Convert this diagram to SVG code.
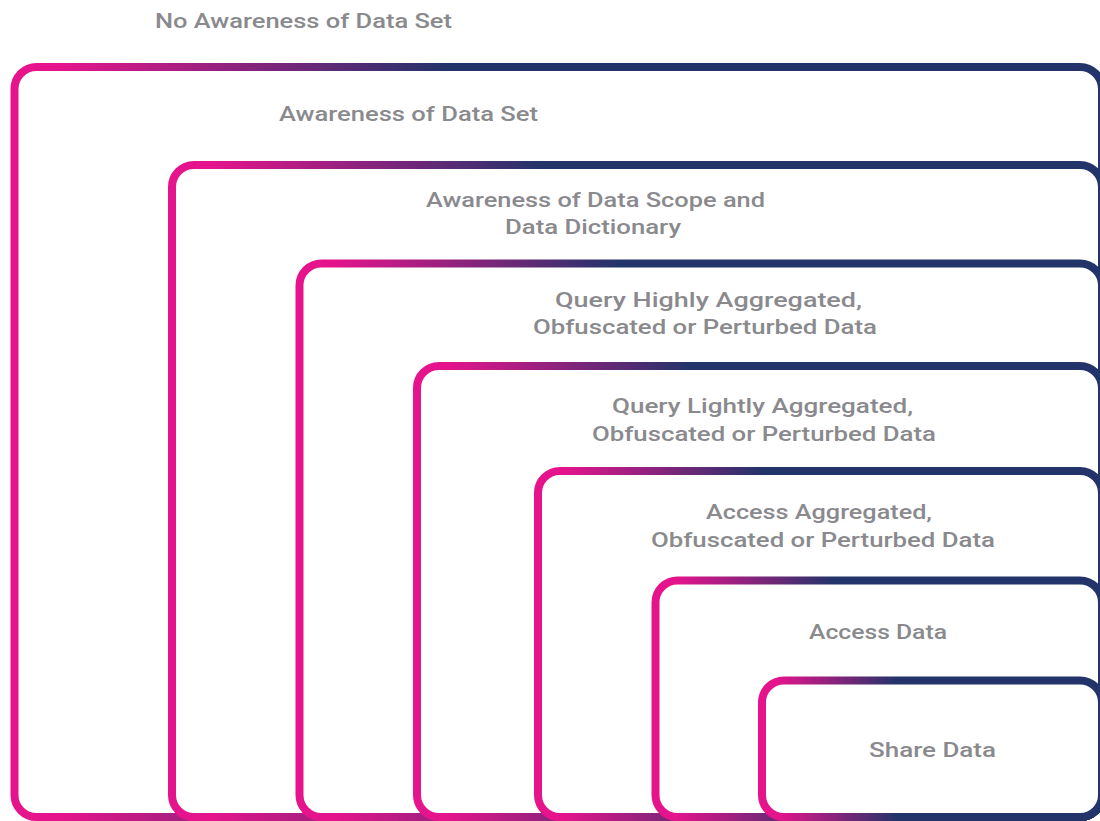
<svg xmlns="http://www.w3.org/2000/svg" width="1100" height="821" viewBox="0 0 1100 821">
  <defs>
    <linearGradient id="edge" x1="0" y1="0" x2="1" y2="0">
      <stop offset="0.04" stop-color="#E6148C"/>
      <stop offset="0.40" stop-color="#22346A"/>
    </linearGradient>
    <style>
      .box { fill: #FFFFFF; stroke: url(#edge); stroke-width: 8; }
      .lbl { font-family: Roboto, "Liberation Sans", "DejaVu Sans", sans-serif; font-weight: 500; font-size: 21px; fill: #8A8A8E; text-anchor: middle; }
    </style>
  </defs>
  <rect width="1100" height="821" fill="#FFFFFF"/>
  <g id="level0">
    <text class="lbl" x="303.5" y="28" textLength="297" lengthAdjust="spacingAndGlyphs">No Awareness of Data Set</text>
  </g>
  <g id="level1">
    <rect class="box" x="14.5" y="67" width="1087.5" height="750" rx="22" ry="22"/>
    <text class="lbl" x="408.5" y="121" textLength="259" lengthAdjust="spacingAndGlyphs">Awareness of Data Set</text>
  </g>
  <g id="level2">
    <rect class="box" x="172" y="165" width="930" height="652" rx="22" ry="22"/>
    <text class="lbl" x="595.5" y="207" textLength="339" lengthAdjust="spacingAndGlyphs">Awareness of Data Scope and</text>
    <text class="lbl" x="593" y="234" textLength="176" lengthAdjust="spacingAndGlyphs">Data Dictionary</text>
  </g>
  <g id="level3">
    <rect class="box" x="299.5" y="263.5" width="802.5" height="553.5" rx="22" ry="22"/>
    <text class="lbl" x="708.5" y="307" textLength="307" lengthAdjust="spacingAndGlyphs">Query Highly Aggregated,</text>
    <text class="lbl" x="705" y="334" textLength="344" lengthAdjust="spacingAndGlyphs">Obfuscated or Perturbed Data</text>
  </g>
  <g id="level4">
    <rect class="box" x="417" y="366" width="685" height="451" rx="22" ry="22"/>
    <text class="lbl" x="762.5" y="413" textLength="301" lengthAdjust="spacingAndGlyphs">Query Lightly Aggregated,</text>
    <text class="lbl" x="764" y="441" textLength="344" lengthAdjust="spacingAndGlyphs">Obfuscated or Perturbed Data</text>
  </g>
  <g id="level5">
    <rect class="box" x="538" y="471" width="564" height="346" rx="22" ry="22"/>
    <text class="lbl" x="819" y="519" textLength="226" lengthAdjust="spacingAndGlyphs">Access Aggregated,</text>
    <text class="lbl" x="823" y="547" textLength="344" lengthAdjust="spacingAndGlyphs">Obfuscated or Perturbed Data</text>
  </g>
  <g id="level6">
    <rect class="box" x="655.5" y="580.5" width="446.5" height="236.5" rx="22" ry="22"/>
    <text class="lbl" x="878" y="639" textLength="138" lengthAdjust="spacingAndGlyphs">Access Data</text>
  </g>
  <g id="level7">
    <rect class="box" x="762" y="680.5" width="340" height="136.5" rx="22" ry="22"/>
    <text class="lbl" x="932.5" y="757" textLength="127" lengthAdjust="spacingAndGlyphs">Share Data</text>
  </g>
  <g id="connectors"/>
</svg>
